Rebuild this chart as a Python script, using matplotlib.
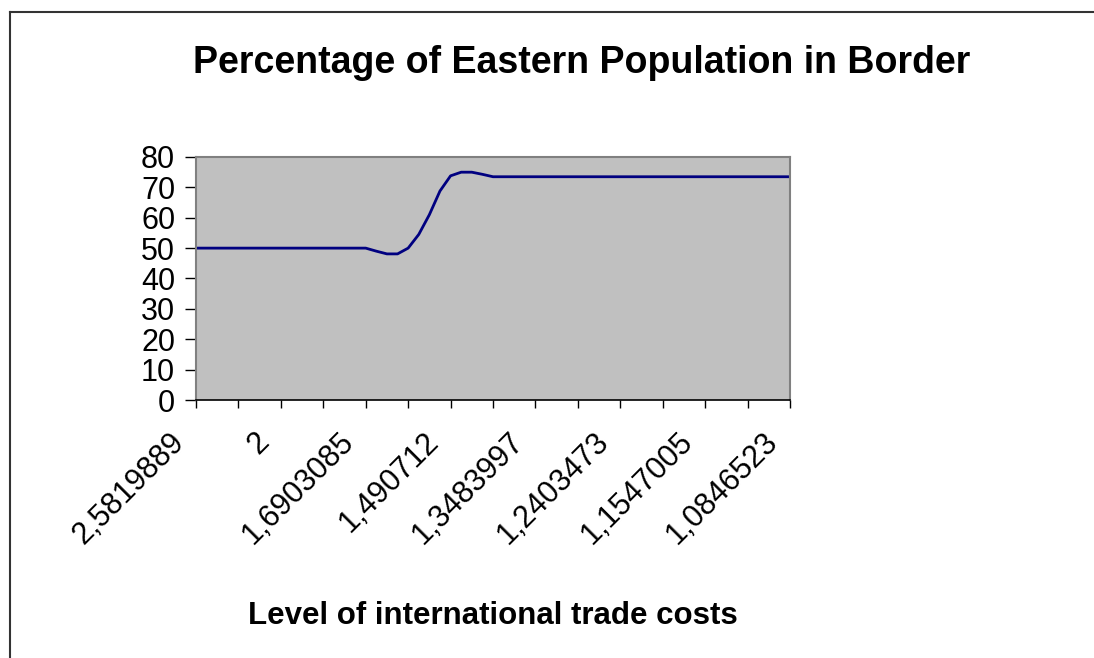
import matplotlib.pyplot as plt
import matplotlib.transforms as mtransforms
import numpy as np

plt.rcParams['font.family'] = ['Liberation Sans', 'DejaVu Sans']

# share of eastern population in the border region, one value per trade-cost step
share = [50.0, 50.0, 50.0, 50.0, 50.0, 50.0, 50.0, 50.0, 50.0, 50.0,
         50.0, 50.0, 50.0, 50.0, 50.0, 50.0, 50.0, 49.0, 48.1, 48.1,
         50.0, 54.5, 61.0, 68.8, 73.8, 75.0, 75.0, 74.3, 73.5, 73.5,
         73.5, 73.5, 73.5, 73.5, 73.5, 73.5, 73.5, 73.5, 73.5, 73.5,
         73.5, 73.5, 73.5, 73.5, 73.5, 73.5, 73.5, 73.5, 73.5, 73.5,
         73.5, 73.5, 73.5, 73.5, 73.5, 73.5, 73.5]

# labels shown on every 8th category
cost_labels = ["2,5819889", "2", "1,6903085", "1,490712",
               "1,3483997", "1,2403473", "1,1547005", "1,0846523"]

x = np.arange(len(share))

fig = plt.figure(figsize=(10.94, 6.58), dpi=100)
ax = fig.add_axes([196/1094, 1 - 400/658, 594/1094, 243/658])

ax.set_facecolor('#C0C0C0')
ax.plot(x, share, color='#000080', linewidth=2.0)

ax.set_xlim(0, len(share) - 1)
ax.set_ylim(0, 80)
ax.set_yticks(range(0, 81, 10))

ticks = x[::4]
labels = []
for i in ticks:
    labels.append(cost_labels[i // 8] if i % 8 == 0 else "")
ax.set_xticks(ticks)
ax.set_xticklabels(labels, rotation=45, ha='right', va='top', rotation_mode='anchor')

ax.tick_params(axis='both', labelsize=22, width=1, color='black')
ax.tick_params(axis='x', length=6, pad=4)
ax.tick_params(axis='y', length=8, pad=7)

# shift the rotated labels the way the original places them
shift = mtransforms.ScaledTranslation(-27/100, -13/100, fig.dpi_scale_trans)
for lab in ax.get_xticklabels():
    lab.set_transform(lab.get_transform() + shift)

for side in ['top', 'right', 'left']:
    ax.spines[side].set_color('#808080')
    ax.spines[side].set_linewidth(1.5)
ax.spines['bottom'].set_color('black')
ax.spines['bottom'].set_linewidth(1.2)

fig.text(582/1094, 1 - 63/658, "Percentage of Eastern Population in Border",
         ha='center', va='center', fontsize=27, fontweight='bold')
fig.text(493/1094, 1 - 616/658, "Level of international trade costs",
         ha='center', va='center', fontsize=22.5, fontweight='bold')

# outer chart frame (left and top edges visible)
fig.add_artist(plt.Line2D([10/1094, 10/1094], [0, 1 - 12/658], color='#333333', linewidth=1.5))
fig.add_artist(plt.Line2D([10/1094, 1], [1 - 12/658, 1 - 12/658], color='#333333', linewidth=1.5))

fig.savefig('out.png', dpi=100)
